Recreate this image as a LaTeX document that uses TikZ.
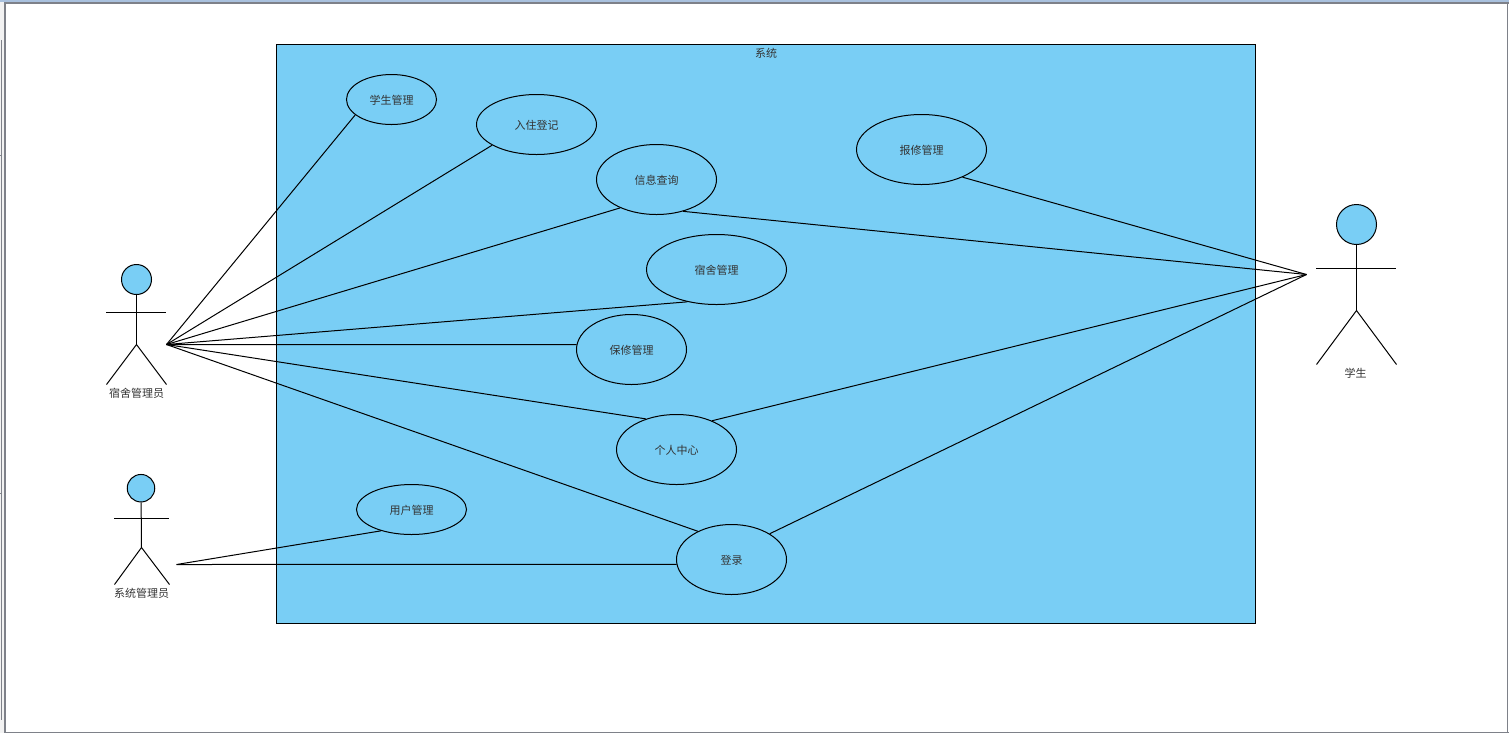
\documentclass[tikz,border=0pt]{standalone}
\usepackage{fontspec}
\setmainfont{Noto Sans CJK SC}
\usetikzlibrary{shapes.geometric}
\definecolor{sysblue}{HTML}{79CEF5}
\definecolor{framegray}{HTML}{7E8189}
\definecolor{titleblue}{HTML}{A9C1DE}
\definecolor{stripgray}{HTML}{F2F2F2}
\tikzset{
  usecase/.style={draw,ellipse,fill=sysblue,inner sep=0pt,text=black!80,text height=8.4pt,text depth=0.6pt,font=\fontsize{8.25pt}{10pt}\selectfont},
  actorhead/.style={draw,circle,fill=sysblue,inner sep=0pt},
  actorname/.style={inner sep=0pt,text=black!80,font=\fontsize{8.25pt}{10pt}\selectfont},
  link/.style={line width=0.75pt}
}
\begin{document}
\begin{tikzpicture}[x=0.75pt,y=-0.75pt,line width=0.75pt]
  \useasboundingbox (0,0) rectangle (1509,733);
  % window frame
  \fill[white] (0,0) rectangle (1509,733);
  \fill[stripgray] (0,0) rectangle (4,733);
  \fill[titleblue] (0,0) rectangle (1509,2);
  \fill[framegray] (1.2,40) rectangle (2.2,720);
  \fill[framegray] (0,154.6) rectangle (2.2,155.6);
  \fill[framegray] (0,492.6) rectangle (2.2,493.6);
  \fill[framegray] (4,2) rectangle (6,733);
  \fill[framegray] (4,2) rectangle (1509,4);
  \fill[framegray] (4,731.6) rectangle (1509,733);
  \fill[framegray] (1507,2) rectangle (1508.4,733);
  % system box
  \node[draw,fill=sysblue,minimum width=979*0.75pt,minimum height=579*0.75pt,anchor=north west,inner sep=0pt] (sys) at (275.6,43.6) {};
  \node[actorname] (systitle) at (766,53) {系统};
  % use cases
  \node[usecase,minimum width=90*0.75pt,minimum height=50*0.75pt] (stumgr) at (391.5,99.5) {学生管理};
  \node[usecase,minimum width=120*0.75pt,minimum height=60*0.75pt] (checkin) at (536.5,124.5) {入住登记};
  \node[usecase,minimum width=120*0.75pt,minimum height=70*0.75pt] (query) at (656.5,179.5) {信息查询};
  \node[usecase,minimum width=130*0.75pt,minimum height=70*0.75pt] (report) at (921.5,149.5) {报修管理};
  \node[usecase,minimum width=140*0.75pt,minimum height=70*0.75pt] (dorm) at (716.5,269.5) {宿舍管理};
  \node[usecase,minimum width=110*0.75pt,minimum height=70*0.75pt] (repair) at (631.5,349.5) {保修管理};
  \node[usecase,minimum width=120*0.75pt,minimum height=70*0.75pt] (center) at (676.5,449.5) {个人中心};
  \node[usecase,minimum width=110*0.75pt,minimum height=50*0.75pt] (usermgr) at (411.5,509.5) {用户管理};
  \node[usecase,minimum width=110*0.75pt,minimum height=70*0.75pt] (login) at (731.5,559.5) {登录};
  % dorm manager
  \node[actorhead,minimum size=30*0.75pt] (dmhead) at (136.5,279.5) {};
  \coordinate (dmhip) at (136.5,344.5);
  \draw (dmhead) -- (dmhip);
  \draw (106,312.5) -- (166,312.5);
  \draw (106.5,384.5) -- (dmhip) -- (166.5,384.5);
  \node[actorname] (dmname) at (136.5,393) {宿舍管理员};
  % system manager
  \node[actorhead,minimum size=27.5*0.75pt] (smhead) at (141,488.2) {};
  \coordinate (smhip) at (141.5,547.5);
  \draw (smhead) -- (smhip);
  \draw (114,518.5) -- (169,518.5);
  \draw (114.5,584.5) -- (smhip) -- (169.5,584.5);
  \node[actorname] (smname) at (141.5,593) {系统管理员};
  % student
  \node[actorhead,minimum size=40*0.75pt] (sthead) at (1356.5,224.5) {};
  \coordinate (sthip) at (1356.5,310.5);
  \draw (sthead) -- (sthip);
  \draw (1316,268.5) -- (1396,268.5);
  \draw (1316.5,364.5) -- (sthip) -- (1396.5,364.5);
  \node[actorname] (stname) at (1355.5,373) {学生};
  % connectors
  \coordinate (dm) at (166.5,344.5);
  \coordinate (sm) at (176.5,564.5);
  \coordinate (st) at (1306.5,274.5);
  \foreach \ucname/\ucangle in {stumgr/203,checkin/205,query/218,dorm/228,repair/175,center/135,login/140}
    \draw[link] (dm) -- (\ucname.\ucangle);
  \foreach \ucname/\ucangle in {usermgr/215,login/185}
    \draw[link] (sm) -- (\ucname.\ucangle);
  \foreach \ucname/\ucangle in {report/326,query/310,center/39,login/34}
    \draw[link] (st) -- (\ucname.\ucangle);
\end{tikzpicture}
\end{document}
